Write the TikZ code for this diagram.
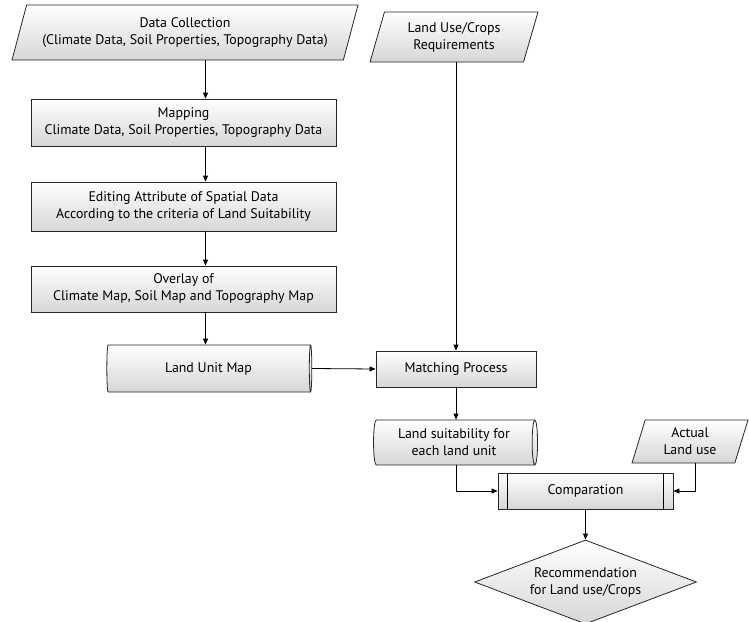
\documentclass[tikz,border=0pt]{standalone}
\usepackage{fontspec}
\setmainfont{PT Sans}
\usetikzlibrary{shapes.geometric,arrows.meta}
\tikzset{
  grad/.style={draw=black!85, line width=0.8pt, top color=white, bottom color=black!16, font=\fontsize{13.9}{17}\selectfont, align=center, inner sep=0pt},
  procbox/.style={grad, rectangle},
  iobox/.style={grad, trapezium, trapezium left angle=64, trapezium right angle=116, trapezium stretches body},
  storebox/.style={grad, cylinder, aspect=0.2},
  decbox/.style={grad, diamond, aspect=2.64},
  arr/.style={line width=0.8pt, -{Triangle[length=6pt,width=5pt]}},
  plain/.style={line width=0.8pt}
}
\begin{document}
\begin{tikzpicture}[x=1pt,y=-1pt]
\useasboundingbox (0,0) rectangle (749,621);
\node[iobox, minimum width=346pt, minimum height=55pt] (dc) at (185,32.5) {Data Collection\\(Climate Data, Soil Properties, Topography Data)};
\node[iobox, minimum width=168pt, minimum height=50pt] (lu) at (454,37) {Land Use/Crops\\Requirements};
\node[procbox, minimum width=305pt, minimum height=47pt] (map) at (183.5,122.5) {Mapping\\ Climate Data, Soil Properties, Topography Data};
\node[procbox, minimum width=305pt, minimum height=49pt] (edit) at (183.5,206.5) {Editing Attribute of Spatial Data\\ According to the criteria of Land Suitability};
\node[procbox, minimum width=305pt, minimum height=46pt] (ovl) at (183.5,289) {Overlay of\\ Climate Map, Soil Map and Topography Map};
\node[storebox, minimum height=205pt, minimum width=47pt] (lum) at (208.5,368.5) {Land Unit Map};
\node[procbox, minimum width=160pt, minimum height=36pt] (mp) at (456,369) {Matching Process};
\node[storebox, minimum height=164pt, minimum width=45pt] (ls) at (454,442.5) {Land suitability for\\each land unit};
\node[iobox, minimum width=116pt, minimum height=43pt] (act) at (690,441.5) {Actual\\Land use};
\node[procbox, minimum width=175pt, minimum height=36pt] (cmp) at (585.5,491) {Comparation};
\draw[plain] ([xshift=10pt]cmp.north west) -- ([xshift=10pt]cmp.south west);
\draw[plain] ([xshift=-10pt]cmp.north east) -- ([xshift=-10pt]cmp.south east);
\node[decbox, minimum width=222pt, minimum height=84pt] (rec) at (585.5,582) {Recommendation\\for Land use/Crops};
\coordinate (ax) at (205.5,0);
\draw[arr] (dc.south -| ax) -- (map.north -| ax);
\draw[arr] (map.south -| ax) -- (edit.north -| ax);
\draw[arr] (edit.south -| ax) -- (ovl.north -| ax);
\draw[arr] (ovl.south -| ax) -- (lum.north -| ax);
\draw[arr] (lu.south -| mp.north) -- (mp.north);
\draw[arr] (lum.east) -- (mp.west);
\draw[arr] (mp.south) -- (ls.north -| mp.south);
\draw[arr] (ls.south -| mp.south) |- (cmp.west);
\draw[arr] ([xshift=5pt]act.south) |- (cmp.east);
\draw[arr] (cmp.south) -- (rec.north);
\end{tikzpicture}
\end{document}
